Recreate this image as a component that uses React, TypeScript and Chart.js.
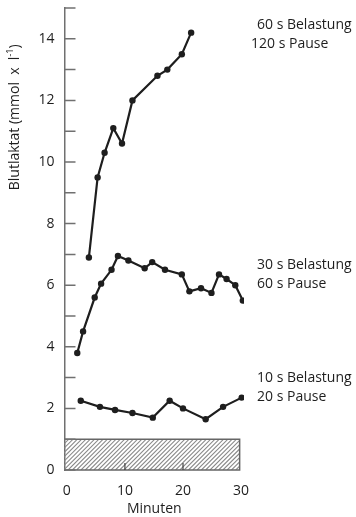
import React, { useEffect, useRef } from 'react';
import { Chart, registerables } from 'chart.js';

Chart.register(...registerables);

const FONT = '"Open Sans", "DejaVu Sans", sans-serif';
const INK = '#1e1e1e';
const AXIS_GRAY = '#707070';

// 60 s Belastung / 120 s Pause
const minutes60 = [3.8, 5.3, 6.5, 8.0, 9.5, 11.3, 15.6, 17.3, 19.8, 21.4];
const lactate60 = [6.9, 9.5, 10.3, 11.1, 10.6, 12.0, 12.8, 13.0, 13.5, 14.2];

// 30 s Belastung / 60 s Pause
const minutes30 = [1.8, 2.8, 4.8, 5.9, 7.7, 8.8, 10.6, 13.4, 14.7, 16.9, 19.8, 21.1, 23.1, 24.9, 26.2, 27.5, 29.0, 30.3];
const lactate30 = [3.8, 4.5, 5.6, 6.05, 6.5, 6.95, 6.8, 6.55, 6.75, 6.5, 6.35, 5.8, 5.9, 5.75, 6.35, 6.2, 6.0, 5.5];

// 10 s Belastung / 20 s Pause
const minutes10 = [2.4, 5.7, 8.3, 11.3, 14.8, 17.7, 20.0, 23.9, 26.9, 30.1];
const lactate10 = [2.25, 2.05, 1.95, 1.85, 1.7, 2.25, 2.0, 1.65, 2.05, 2.35];

const seriesLabels = [
  ['60 s Belastung', '120 s Pause'],
  ['30 s Belastung', '60 s Pause'],
  ['10 s Belastung', '20 s Pause'],
];
const seriesLabelLevels = [14.45, 6.65, 2.98];

const xTickValues = [0, 10, 20, 30];
const xInnerTickValues = [10, 20];
const yTickValues = [0, 1, 2, 3, 4, 5, 6, 7, 8, 9, 10, 11, 12, 13, 14, 15];
const yLabelValues = [0, 2, 4, 6, 8, 10, 12, 14];

const restMinuteEnd = 29.75;
const restLactateLow = 0;
const restLactateHigh = 1;

const yTitleMain = 'Blutlaktat (mmol  x  l';
const yTitleSup = '-1';
const yTitleEnd = ')';
const yTitleCenterLevel = 11.45;

const xTitle = 'Minuten';

const toPoints = (xs: number[], ys: number[]) => xs.map((x, i) => ({ x, y: ys[i] }));

const hatchPlugin = {
  id: 'hatchZone',
  beforeDatasetsDraw(chart: any) {
    const { ctx, chartArea, scales } = chart;
    const x = scales.x;
    const y = scales.y;
    const x1 = chartArea.left;
    const x2 = x.getPixelForValue(restMinuteEnd);
    const yTop = y.getPixelForValue(restLactateHigh);
    const yBot = y.getPixelForValue(restLactateLow);
    const h = yBot - yTop;
    ctx.save();
    ctx.beginPath();
    ctx.rect(x1, yTop, x2 - x1, h);
    ctx.clip();
    ctx.strokeStyle = '#8a8a8a';
    ctx.lineWidth = 1.1;
    ctx.beginPath();
    for (let sx = x1 - h; sx < x2 + h; sx += 4.3) {
      ctx.moveTo(sx, yBot);
      ctx.lineTo(sx + h, yTop);
    }
    ctx.stroke();
    ctx.restore();

    ctx.save();
    ctx.strokeStyle = '#666';
    ctx.lineWidth = 1.5;
    ctx.beginPath();
    ctx.moveTo(x1, yTop);
    ctx.lineTo(x2, yTop);
    ctx.lineTo(x2, yBot);
    ctx.lineTo(x1, yBot);
    ctx.stroke();
    // inward ticks
    ctx.strokeStyle = AXIS_GRAY;
    ctx.beginPath();
    for (const v of yTickValues) {
      const py = y.getPixelForValue(v);
      ctx.moveTo(x1, py);
      ctx.lineTo(x1 + 11, py);
    }
    ctx.stroke();
    ctx.strokeStyle = '#444';
    ctx.lineWidth = 1.2;
    ctx.beginPath();
    for (const v of xInnerTickValues) {
      const px = x.getPixelForValue(v);
      ctx.moveTo(px, yBot);
      ctx.lineTo(px, yBot - 7);
    }
    ctx.stroke();
    ctx.restore();
  },
};

const textPlugin = {
  id: 'annotTexts',
  afterDraw(chart: any) {
    const { ctx, chartArea, scales } = chart;
    const y = scales.y;
    ctx.save();
    ctx.fillStyle = INK;
    ctx.font = `14px ${FONT}`;
    ctx.textBaseline = 'middle';
    ctx.textAlign = 'left';
    seriesLabels.forEach((lines, i) => {
      const py = y.getPixelForValue(seriesLabelLevels[i]);
      lines.forEach((line, j) => {
        let dx = 13;
        if (i === 0 && j === 1) dx = 7;
        ctx.fillText(line, chartArea.right + dx, py + j * 19);
      });
    });

    // rotated y-axis title
    const cy = y.getPixelForValue(yTitleCenterLevel);
    const cx = 15;
    ctx.font = `14px ${FONT}`;
    const wMain = ctx.measureText(yTitleMain).width;
    const wEnd = ctx.measureText(yTitleEnd).width;
    ctx.font = `9px ${FONT}`;
    const wSup = ctx.measureText(yTitleSup).width;
    const total = wMain + wSup + wEnd;
    ctx.translate(cx, cy);
    ctx.rotate(-Math.PI / 2);
    let pos = -total / 2;
    ctx.font = `14px ${FONT}`;
    ctx.fillText(yTitleMain, pos, 0);
    pos += wMain;
    ctx.font = `9px ${FONT}`;
    ctx.fillText(yTitleSup, pos, -5);
    pos += wSup;
    ctx.font = `14px ${FONT}`;
    ctx.fillText(yTitleEnd, pos, 0);
    ctx.restore();
  },
};

export default function App() {
  const canvasRef = useRef<HTMLCanvasElement | null>(null);

  useEffect(() => {
    document.body.style.margin = '0';
    const canvas = canvasRef.current;
    if (!canvas) return;
    const lineStyle = {
      showLine: true,
      borderColor: INK,
      borderWidth: 2.2,
      pointRadius: 3.2,
      pointBackgroundColor: INK,
      pointBorderWidth: 0,
      pointHoverRadius: 3.2,
    };
    const chart = new Chart(canvas, {
      type: 'scatter',
      data: {
        datasets: [
          { label: '60 s Belastung, 120 s Pause', data: toPoints(minutes60, lactate60), ...lineStyle },
          { label: '30 s Belastung, 60 s Pause', data: toPoints(minutes30, lactate30), ...lineStyle },
          { label: '10 s Belastung, 20 s Pause', data: toPoints(minutes10, lactate10), ...lineStyle },
        ],
      },
      options: {
        animation: false,
        responsive: false,
        devicePixelRatio: 1,
        layout: { padding: { left: 0, right: 112, top: 8, bottom: 0 } },
        plugins: {
          legend: { display: false },
          tooltip: { enabled: false },
        },
        scales: {
          x: {
            type: 'linear',
            min: -0.4,
            max: 30.5,
            grid: { display: false, drawTicks: false },
            border: { display: false },
            afterBuildTicks: (s: any) => {
              s.ticks = xTickValues.map((v) => ({ value: v }));
            },
            afterFit: (s: any) => {
              s.height = 47;
            },
            ticks: {
              font: { family: FONT, size: 14 },
              color: INK,
              padding: 13,
              maxRotation: 0,
              callback: (v: any) => String(v),
            },
            title: {
              display: true,
              text: xTitle,
              font: { family: FONT, size: 14 },
              color: INK,
              padding: { top: 0, bottom: 0 },
            },
          },
          y: {
            type: 'linear',
            min: 0,
            max: 15,
            afterFit: (s: any) => {
              s.width = 64.5;
              s.paddingTop = 0;
              s.paddingBottom = 0;
            },
            grid: { display: false, drawTicks: false },
            border: { display: true, color: AXIS_GRAY, width: 1.5 },
            afterBuildTicks: (s: any) => {
              s.ticks = yTickValues.map((v) => ({ value: v }));
            },
            ticks: {
              font: { family: FONT, size: 14 },
              color: INK,
              padding: 10,
              callback: (v: any) => (yLabelValues.includes(Number(v)) ? String(v) : ''),
            },
          },
        },
      } as any,
      plugins: [hatchPlugin, textPlugin],
    });
    return () => chart.destroy();
  }, []);

  return (
    <div style={{ width: 356, height: 517, background: '#fff' }}>
      <canvas ref={canvasRef} width={356} height={517} style={{ display: 'block' }} />
    </div>
  );
}
